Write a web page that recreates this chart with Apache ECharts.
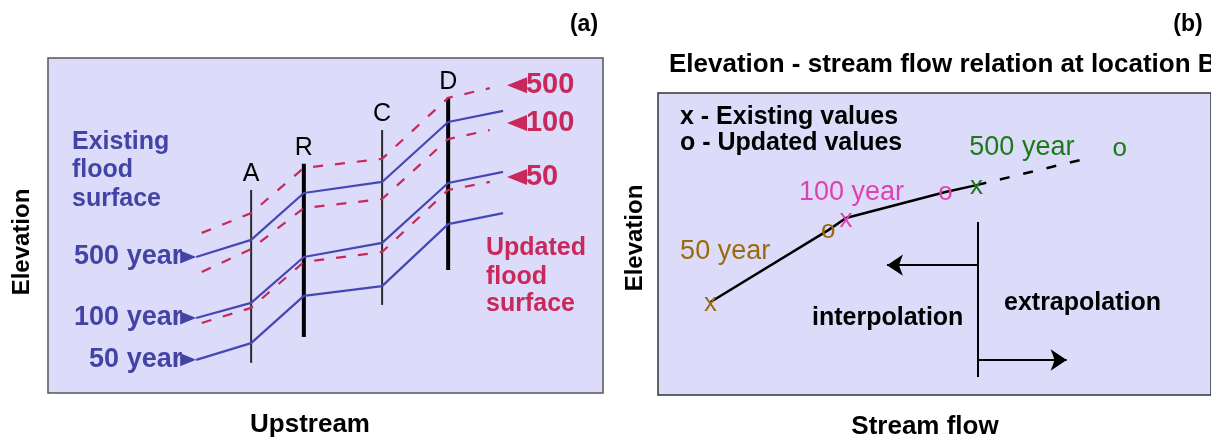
<!DOCTYPE html>
<html><head><meta charset="utf-8">
<script src="https://cdn.jsdelivr.net/npm/echarts@6/dist/echarts.min.js"></script>
<style>html,body{margin:0;padding:0;background:#fff}#c{width:1211px;height:440px}</style>
</head><body><div id="c"></div>
<script>
// ---------- Panel (a): flood surfaces along the stream ----------
const sectionNames = ['A', 'R', 'C', 'D'];
const sectionX = [36.6, 46.1, 60.2, 72.1];
const sectionBottom = [9.0, 16.7, 26.3, 36.7];
const sectionTop = [60.6, 68.4, 78.5, 88.1];
const sectionHeavy = [false, true, false, true];

const existingX = [26.7, 36.6, 46.1, 60.2, 72.1, 82.0];
const existing500 = [40.6, 45.7, 59.7, 63.0, 80.9, 84.2];
const existing100 = [22.4, 26.9, 40.6, 44.8, 62.7, 66.0];
const existing50 = [9.9, 14.9, 29.0, 31.9, 50.4, 53.7];
const existingLabels = ['500 year', '100 year', '50 year'];

const updatedX = [27.7, 36.6, 46.1, 60.2, 72.1, 79.6];
const updated500 = [47.8, 53.7, 67.2, 69.9, 88.1, 91.0];
const updated100 = [36.1, 43.0, 55.2, 57.9, 75.8, 78.5];
const updated50 = [20.9, 25.4, 39.1, 42.1, 60.6, 63.0];
const updatedLabels = ['500', '100', '50'];
const updatedArrowX = 82.7;
const updatedArrowY = [91.9, 80.6, 64.5];

// ---------- Panel (b): elevation - stream flow relation at B ----------
const flowNames = ['50 year', '100 year', '500 year'];
const existingFlow = [9.5, 34.0, 57.6];
const existingElev = [30.8, 58.6, 69.5];
const updatedFlow = [30.8, 52.0, 83.5];
const updatedElev = [54.6, 67.2, 81.8];
const flowLabelX = [4.0, 25.5, 56.3];
const flowLabelY = [47.4, 67.2, 81.8];
const extrapEnd = [78.6, 78.8];
const dividerX = 57.9;
const dividerY = [6.0, 57.3];
const interpArrow = [41.4, 43.0];
const extrapArrow = [73.9, 11.6];

const BLUE = '#4646b4', BLUE_TXT = '#4343a6', RED = '#c8285a';
const flowColors = ['#9a6a0c', '#e040b0', '#1a7a1a'];
const FONT = '"Liberation Sans", Arial, sans-serif';
const SOLID = { opacity: 1 };

const series = [];
// section lines
sectionNames.forEach((n, i) => {
  series.push({
    type: 'line', xAxisIndex: 0, yAxisIndex: 0, silent: true, symbol: 'none',
    data: [[sectionX[i], sectionBottom[i]], [sectionX[i], sectionTop[i]]],
    lineStyle: { color: sectionHeavy[i] ? '#000' : '#2a2a2a', width: sectionHeavy[i] ? 4 : 2 },
    z: 2
  });
});
series.push({
  type: 'scatter', xAxisIndex: 0, yAxisIndex: 0, silent: true, symbolSize: 0, itemStyle: SOLID,
  data: sectionNames.map((n, i) => ({ value: [sectionX[i], sectionTop[i]], name: n })),
  label: { show: true, position: 'top', distance: 3, formatter: p => p.name,
    fontFamily: FONT, fontSize: 25, color: '#000' }
});
// existing (blue)
[existing500, existing100, existing50].forEach((ys) => {
  series.push({
    type: 'line', xAxisIndex: 0, yAxisIndex: 0, silent: true, symbol: 'none',
    data: existingX.map((x, j) => [x, ys[j]]),
    lineStyle: { color: BLUE, width: 2.2 }, z: 3
  });
});
series.push({
  type: 'scatter', xAxisIndex: 0, yAxisIndex: 0, silent: true,
  symbol: 'triangle', symbolSize: [13, 16], symbolRotate: -90, symbolOffset: [-8, 0],
  itemStyle: { color: BLUE_TXT, opacity: 1 },
  data: [existing500, existing100, existing50].map(ys => [existingX[0], ys[0]])
});
series.push({
  type: 'scatter', xAxisIndex: 0, yAxisIndex: 0, silent: true, symbolSize: 0, itemStyle: SOLID,
  data: [existing500, existing100, existing50].map((ys, i) => ({ value: [existingX[0], ys[0]], name: existingLabels[i] })),
  label: { show: true, position: 'left', distance: 14, formatter: p => p.name,
    fontFamily: FONT, fontWeight: 'bold', fontSize: 27, color: BLUE_TXT }
});
// updated (red dashed)
[updated500, updated100, updated50].forEach((ys) => {
  series.push({
    type: 'line', xAxisIndex: 0, yAxisIndex: 0, silent: true, symbol: 'none',
    data: updatedX.map((x, j) => [x, ys[j]]),
    lineStyle: { color: RED, width: 2.2, type: [10, 12] }, z: 3
  });
});
series.push({
  type: 'scatter', xAxisIndex: 0, yAxisIndex: 0, silent: true,
  symbol: 'triangle', symbolSize: [16, 20], symbolRotate: 90, symbolOffset: [10, 0],
  itemStyle: { color: RED, opacity: 1 },
  data: updatedArrowY.map(y => [updatedArrowX, y])
});
series.push({
  type: 'scatter', xAxisIndex: 0, yAxisIndex: 0, silent: true, symbolSize: 0, itemStyle: SOLID,
  data: updatedArrowY.map((y, i) => ({ value: [updatedArrowX, y], name: updatedLabels[i] })),
  label: { show: true, position: 'right', distance: 19, formatter: p => p.name,
    fontFamily: FONT, fontWeight: 'bold', fontSize: 29, color: RED }
});

// panel (b)
const relation = existingFlow.map((x, i) => [x, existingElev[i]])
  .concat(updatedFlow.map((x, i) => [x, updatedElev[i]]))
  .filter(p => p[0] <= existingFlow[2])
  .sort((a, b) => a[0] - b[0]);
series.push({
  type: 'line', xAxisIndex: 1, yAxisIndex: 1, silent: true, symbol: 'none',
  data: relation, lineStyle: { color: '#000', width: 2.5 }
});
series.push({
  type: 'line', xAxisIndex: 1, yAxisIndex: 1, silent: true, symbol: 'none',
  data: [[existingFlow[2], existingElev[2]], extrapEnd],
  lineStyle: { color: '#000', width: 2.5, type: [10, 14] }
});
series.push({
  type: 'scatter', xAxisIndex: 1, yAxisIndex: 1, silent: true, symbolSize: 0, z: 5, itemStyle: SOLID,
  data: existingFlow.map((x, i) => ({ value: [x, existingElev[i]],
    label: { color: flowColors[i] } })),
  label: { show: true, position: 'inside', formatter: 'x', offset: [0, 2],
    fontFamily: FONT, fontSize: 26 }
});
series.push({
  type: 'scatter', xAxisIndex: 1, yAxisIndex: 1, silent: true, symbolSize: 0, z: 5, itemStyle: SOLID,
  data: updatedFlow.map((x, i) => ({ value: [x, updatedElev[i]],
    label: { color: flowColors[i] } })),
  label: { show: true, position: 'inside', formatter: 'o', offset: [0, 1],
    fontFamily: FONT, fontSize: 26 }
});
series.push({
  type: 'scatter', xAxisIndex: 1, yAxisIndex: 1, silent: true, symbolSize: 0, itemStyle: SOLID,
  data: flowNames.map((n, i) => ({ value: [flowLabelX[i], flowLabelY[i]], name: n,
    label: { color: flowColors[i] } })),
  label: { show: true, position: 'right', distance: 0, formatter: p => p.name,
    fontFamily: FONT, fontSize: 27 }
});
series.push({
  type: 'lines', coordinateSystem: 'cartesian2d', xAxisIndex: 1, yAxisIndex: 1, silent: true,
  lineStyle: { color: '#000', width: 2, opacity: 1 },
  symbol: ['none', 'none'],
  data: [{ coords: [[dividerX, dividerY[0]], [dividerX, dividerY[1]]] }]
});
series.push({
  type: 'lines', coordinateSystem: 'cartesian2d', xAxisIndex: 1, yAxisIndex: 1, silent: true,
  lineStyle: { color: '#000', width: 2, opacity: 1 },
  symbol: ['none', 'arrow'], symbolSize: 16,
  data: [
    { coords: [[dividerX, interpArrow[1]], [interpArrow[0], interpArrow[1]]] },
    { coords: [[dividerX, extrapArrow[1]], [extrapArrow[0], extrapArrow[1]]] }
  ]
});

function txt(x, y, text, opts) {
  return Object.assign({ type: 'text', x: x, y: y, silent: true,
    style: Object.assign({ text: text, font: 'bold 24px ' + FONT, fill: '#000',
      align: 'left', verticalAlign: 'middle' }, opts || {}) });
}
const graphic = [
  txt(584, 25, '(a)', { font: 'bold 23px ' + FONT, align: 'center' }),
  txt(1188, 25, '(b)', { font: 'bold 23px ' + FONT, align: 'center' }),
  txt(669, 65, 'Elevation - stream flow relation at location B', { font: 'bold 26px ' + FONT }),
  Object.assign(txt(22, 242, 'Elevation', { align: 'center' }), { rotation: Math.PI / 2 }),
  Object.assign(txt(635, 238, 'Elevation', { align: 'center' }), { rotation: Math.PI / 2 }),
  txt(310, 425, 'Upstream', { font: 'bold 26px ' + FONT, align: 'center' }),
  txt(925, 427, 'Stream flow', { font: 'bold 26px ' + FONT, align: 'center' }),
  txt(72, 142, 'Existing', { font: 'bold 25px ' + FONT, fill: BLUE_TXT }),
  txt(72, 170, 'flood', { font: 'bold 25px ' + FONT, fill: BLUE_TXT }),
  txt(72, 199, 'surface', { font: 'bold 25px ' + FONT, fill: BLUE_TXT }),
  txt(486, 248, 'Updated', { font: 'bold 25px ' + FONT, fill: RED }),
  txt(486, 277, 'flood', { font: 'bold 25px ' + FONT, fill: RED }),
  txt(486, 304, 'surface', { font: 'bold 25px ' + FONT, fill: RED }),
  txt(680, 117, 'x - Existing values', { font: 'bold 25px ' + FONT }),
  txt(680, 143, 'o - Updated values', { font: 'bold 25px ' + FONT }),
  txt(812, 318, 'interpolation', { font: 'bold 25px ' + FONT }),
  txt(1004, 303, 'extrapolation', { font: 'bold 25px ' + FONT })
];

const axisOff = { type: 'value', min: 0, max: 100, show: false };
const chart = echarts.init(document.getElementById('c'), null, { renderer: 'canvas' });
chart.setOption({
  animation: false,
  backgroundColor: '#fff',
  grid: [
    { left: 48, top: 58, width: 555, height: 335, show: true, backgroundColor: '#dcdcfa', borderColor: '#555', borderWidth: 1.5 },
    { left: 658, top: 93, width: 556, height: 302, show: true, backgroundColor: '#dcdcfa', borderColor: '#333', borderWidth: 1.5 }
  ],
  xAxis: [Object.assign({ gridIndex: 0 }, axisOff), Object.assign({ gridIndex: 1 }, axisOff)],
  yAxis: [Object.assign({ gridIndex: 0 }, axisOff), Object.assign({ gridIndex: 1 }, axisOff)],
  series: series,
  graphic: graphic
});
</script></body></html>
